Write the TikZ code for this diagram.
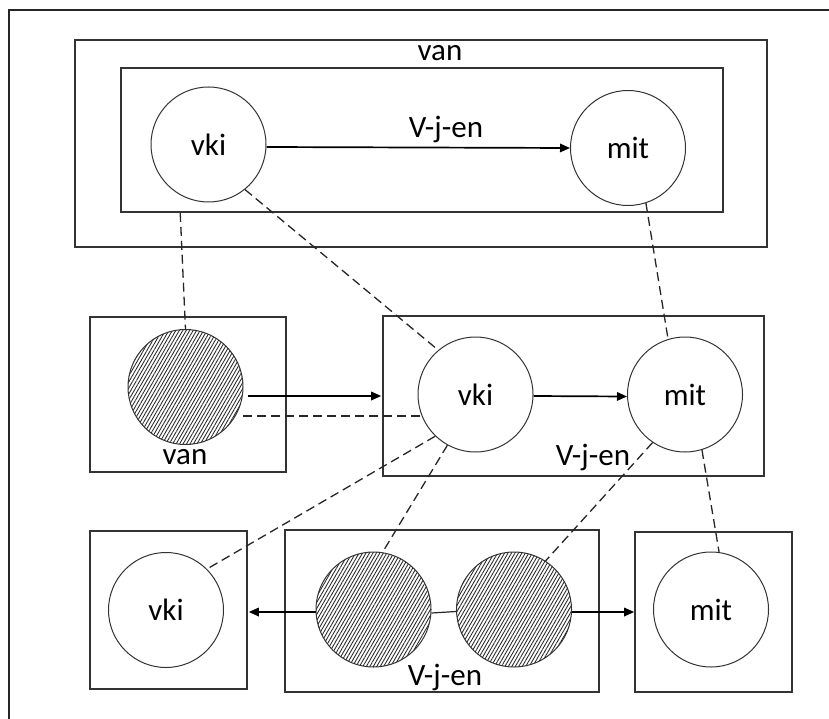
\documentclass[tikz,border=0pt]{standalone}
\usepackage{fontspec}
\setmainfont{Carlito}
\usetikzlibrary{arrows.meta,patterns.meta,calc}
\begin{document}
\begin{tikzpicture}[x=1pt,y=-1pt,
  box/.style={draw=black!80,line width=1.6pt,inner sep=0pt,rectangle},
  circ/.style={draw=black!80,line width=1pt,circle,minimum size=115pt,inner sep=0pt,font=\fontsize{31}{33}\selectfont},
  hatch/.style={circ,pattern={Lines[angle=60,distance=3pt,line width=0.85pt]},pattern color=black!85},
  lbl/.style={inner sep=0pt,font=\fontsize{31}{33}\selectfont},
  arr/.style={draw=black,line width=1.7pt,-{Triangle[length=10pt,width=8.5pt]}},
  dsh/.style={draw=black!85,line width=1.3pt,dash pattern=on 9pt off 5pt},
  plain/.style={draw=black!85,line width=1.2pt}]
\useasboundingbox (0,0) rectangle (829,719);
\fill[white] (0,0) rectangle (829,719);
% outer frame (cut off at right and bottom)
\draw[black!85,line width=1.3pt] (9,719) -- (9,10) -- (829,10);
% boxes
\node[box,minimum width=692pt,minimum height=207pt] (boxTopOuter) at (421,143.5) {};
\node[box,minimum width=602pt,minimum height=144pt] (boxTopInner) at (422,140) {};
\node[box,minimum width=196pt,minimum height=155pt] (boxMidL) at (188,394.5) {};
\node[box,minimum width=381pt,minimum height=160pt] (boxMidR) at (573.5,396) {};
\node[box,minimum width=157pt,minimum height=158pt] (boxBotL) at (168.5,610) {};
\node[box,minimum width=314pt,minimum height=162pt] (boxBotM) at (442,611) {};
\node[box,minimum width=157pt,minimum height=160pt] (boxBotR) at (713.5,612) {};
% labels
\node[lbl] (lVanTop) at (440,53) {van};
\node[lbl] (lVjTop) at (446,129) {V-j-en};
\node[lbl] (lVanMid) at (185,457) {van};
\node[lbl] (lVjMid) at (593,457) {V-j-en};
\node[lbl] (lVjBot) at (445,677) {V-j-en};
% circles
\node[circ] (tVki) at (208.5,144.5) {vki};
\node[circ] (tMit) at (628,148) {mit};
\node[hatch] (mH) at (185.5,387) {};
\node[circ] (mVki) at (475.5,394.5) {vki};
\node[circ] (mMit) at (685,394.5) {mit};
\node[circ] (bVki) at (166,610) {vki};
\node[hatch] (bH1) at (373.5,609.5) {};
\node[hatch] (bH2) at (514,609.5) {};
\node[circ] (bMit) at (711,609.5) {mit};
% arrows
\draw[arr] ($(tVki.east)+(0,2.5)$) -- ($(tMit.west)+(0,0)$);
\draw[arr] ($(mH.east)+(5,9)$) -- ($(mH.east -| boxMidR.west)+(-1,9)$);
\draw[arr] ($(mVki.east)+(0,1.5)$) -- ($(mMit.west)+(0,2)$);
\draw[arr] ($(bH1.west)+(0,2.5)$) -- ($(bH1.west -| boxBotL.east)+(1,2.5)$);
\draw[arr] ($(bH2.east)+(0,2.5)$) -- ($(bH2.east -| boxBotR.west)+(0,2.5)$);
\draw[plain] ($(bH1.east)+(0,3.5)$) -- ($(bH2.west)+(0,2)$);
% dashed links
\draw[dsh] ($(boxTopInner.south west)+(60,0)$) -- (mH.north);
\draw[dsh] ($(mH.east)+(0,29)$) -- ($(mVki.west)+(4,21.5)$);
\draw[dsh] (tVki.-51) -- (mVki.130);
\draw[dsh] (tMit.-72) -- (mMit.107);
\draw[dsh] (mVki.226) -- (bVki.45);
\draw[dsh] (mVki.241) -- (bH1.81);
\draw[dsh] (mMit.236) -- (bH2.57);
\draw[dsh] (mMit.-73) -- (bMit.82);
\end{tikzpicture}
\end{document}
